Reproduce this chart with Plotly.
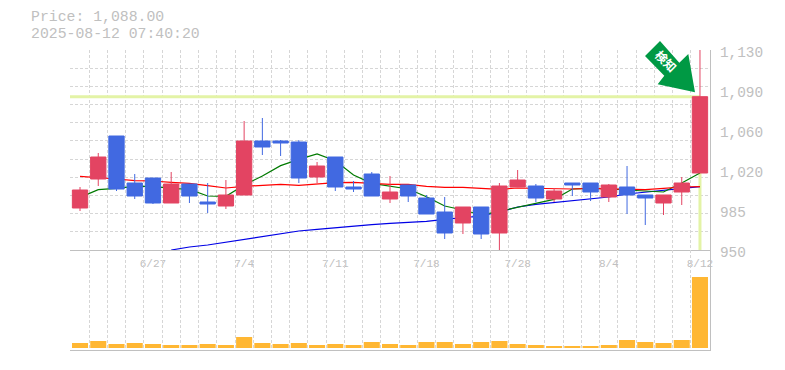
import plotly.graph_objects as go

idx = list(range(35))
opens = [987.8,1013.9,1052.6,1010.3,1014.8,992.3,1009.4,993.2,989.6,999.5,1048.1,1048.1,1047.2,1015.7,1033.7,1006.7,1018.4,995.9,1008.5,996.8,984.2,974.3,988.7,965.3,1006.7,1007.6,995.9,1010.3,1010.3,997.7,1006.7,999.5,992.3,1002.2,1019.3]
highs = [1006.7,1037.3,1052.6,1018.4,1014.8,1020.2,1009.4,1010.3,1013,1066.1,1068.8,1049,1049,1029.2,1033.7,1012.1,1020.2,1016.6,1008.5,999.5,997.7,988.7,988.7,1010.3,1022,1009.4,1005.8,1010.3,1010.3,1009.4,1025.6,999.5,999.5,1015.7,1130]
lows = [985.1,1007.6,1003.1,995.9,991.4,992.3,992.3,983.3,986.9,999.5,1035.5,1034.6,1010.3,1010.3,1003.1,1002.2,998.6,992.3,993.2,982.4,959.9,964.4,959.9,950,1006.7,993.2,993.2,998.6,994.1,993.2,982.4,972.5,981.5,990.5,1019.3]
closes = [1004,1033.7,1004.9,998.6,992.3,1009.4,998.6,991.4,999.5,1048.1,1042.7,1046.3,1014.8,1025.6,1006.7,1004.9,998.6,1002.2,998.6,982.4,965.3,988.7,964.4,1007.6,1013,996.8,1003.1,1008.5,1002.2,1008.5,999.5,996.8,999.5,1010.3,1088]
ma_short = [997.4,1004.3,1005.5,1007.3,1007.3,1005.5,1004.6,998.6,998.3,1008.5,1016.6,1025.9,1031.6,1036.4,1030.4,1017.5,1010,1007.6,1004.9,998,989.6,986,981.5,984.8,988.4,991.4,995.6,1004.9,1005.5,1004.9,1004,1003.1,1002.2,1010.3,1019.3]
ma_mid = [1016.3,1015.4,1013.9,1012.4,1012.1,1010.9,1010,1007.9,1005.8,1007.3,1008.2,1009.1,1008.2,1009.4,1010.6,1010.9,1010,1009.1,1009.1,1007.3,1006.4,1006.4,1005.5,1004.6,1005.8,1005.5,1004.9,1004.9,1005.5,1004.9,1004.6,1004.3,1005.5,1006.7,1007]
ma_long = [None]*5 + [950,952.7,954.5,956.9,959.6,962.3,964.4,967.1,968.6,970.1,971.9,972.8,974,974.9,975.8,977.6,978.8,980.6,984.2,988.7,991.1,992.6,994.1,995.9,997.7,1000.4,1001.9,1003.4,1005.5,1007]
volumes = [5,7,4,5,4,3,3,4,3,11,5,4,5,3,4,3,6,4,3,6,6,4,6,7,4,3,2,2,2,3,8,6,5,8,71]
last_price = 1088
price_ticks = [950,986,1022,1058,1094,1130]
price_labels = ["950","985","1,020","1,060","1,090","1,130"]
price_grid = [950 + i*180/11 for i in range(12)]
date_ticks = [4,9,14,19,24,29,34]
date_labels = ["6/27","7/4","7/11","7/18","7/28","8/4","8/12"]
title_lines = ["Price: 1,088.00","2025-08-12 07:40:20"]

W, H = 785, 370
L, R, T, B = 70, 710, 50, 350
GRID = "#d6d6d6"; AX = "#c0c0c0"; MONO = "Liberation Mono"
def px(x): return (x-L)/(R-L)
def py(y): return (B-y)/(B-T)

fig = go.Figure()
hl = dict(color="#e3f3a6", width=3)
fig.add_trace(go.Scatter(x=[-0.55, idx[-1]], y=[last_price]*2, mode="lines", line=hl, xaxis="x", yaxis="y"))
fig.add_trace(go.Scatter(x=[idx[-1]]*2, y=[950, last_price], mode="lines", line=hl, xaxis="x", yaxis="y"))
for s, c in ((ma_long,"#0000e6"),(ma_short,"#007a00"),(ma_mid,"#ff0000")):
    fig.add_trace(go.Scatter(x=idx, y=s, mode="lines", line=dict(color=c, width=1.2), xaxis="x", yaxis="y"))
fig.add_trace(go.Candlestick(x=idx, open=opens, high=highs, low=lows, close=closes, xaxis="x", yaxis="y3",
    increasing=dict(line=dict(color="#e34462", width=1), fillcolor="#e34462"),
    decreasing=dict(line=dict(color="#4169e1", width=1), fillcolor="#4169e1"),
    whiskerwidth=0))
fig.add_trace(go.Bar(x=idx, y=volumes, marker=dict(color="#ffb733", line_width=0), xaxis="x2", yaxis="y2", width=0.88))

xgrid = dict(tickvals=[i-0.5 for i in range(36)], showgrid=True, gridcolor=GRID, griddash="3px,2px", gridwidth=1, ticks="")
xcommon = dict(range=[-0.55,34.55], showgrid=False, zeroline=False, showline=True, linecolor=AX, linewidth=1, minor=xgrid, automargin=False)
arrow = [(660,41),(645,56),(664.3,75.7),(657.7,84.3),(695,92.3),(688.3,54),(679.3,62.7)]
path = "M " + " L ".join(f"{px(a):.5f} {py(b):.5f}" for a,b in arrow) + " Z"
fig.update_layout(
    template="none",
    width=W, height=H, autosize=False, showlegend=False, paper_bgcolor="white", plot_bgcolor="white",
    margin=dict(l=L, r=W-R, t=T, b=H-B, pad=0), boxgap=0.16, boxgroupgap=0, boxmode="overlay", bargap=0.12, hovermode=False,
    xaxis=dict(xcommon, domain=[0,1], anchor="y", tickmode="array", tickvals=date_ticks, ticktext=date_labels,
               tickfont=dict(family=MONO, size=11, color=AX), rangeslider=dict(visible=False), ticks="", ticklen=0, ticklabelstandoff=3),
    xaxis2=dict(xcommon, domain=[0,1], anchor="y2", matches="x", showticklabels=False, ticks=""),
    yaxis=dict(domain=[1/3,1], anchor="x", side="right", range=[950,1130], tickmode="array", tickvals=price_ticks, ticktext=price_labels,
               tickfont=dict(family=MONO, size=14.4, color=AX), showgrid=False, zeroline=False, showline=True, linecolor=AX, linewidth=1,
               ticks="", ticklabelshift=2, ticklabelstandoff=6, automargin=False,
               minor=dict(tickvals=price_grid, showgrid=True, gridcolor=GRID, griddash="3px,2px", gridwidth=1, ticks="")),
    yaxis2=dict(domain=[0,1/3], anchor="x2", side="right", range=[-2,98], showticklabels=False, showgrid=False, zeroline=False,
                showline=True, linecolor=AX, linewidth=1, automargin=False, ticks=""),
    yaxis3=dict(domain=[1/3,1], anchor="x", overlaying="y", side="right", range=[950,1130], visible=False),
    shapes=[dict(type="path", path=path, xref="paper", yref="paper", fillcolor="#009944", line_width=0, layer="above")],
    annotations=[
        dict(text=title_lines[0], xref="paper", yref="paper", x=px(28.5), y=py(17.5), xanchor="left", yanchor="middle", showarrow=False,
             font=dict(family=MONO, size=14.8, color=AX)),
        dict(text=title_lines[1], xref="paper", yref="paper", x=px(28.5), y=py(33.8), xanchor="left", yanchor="middle", showarrow=False,
             font=dict(family=MONO, size=14.8, color=AX)),
        dict(text="検知", xref="paper", yref="paper", x=px(666), y=py(61), xanchor="center", yanchor="middle", showarrow=False, textangle=45,
             font=dict(family="Noto Sans CJK JP", size=12, color="white", weight="bold")),
    ],
)
fig.write_html("out.html", post_script="document.body.style.margin='0';", config=dict(displayModeBar=False))
